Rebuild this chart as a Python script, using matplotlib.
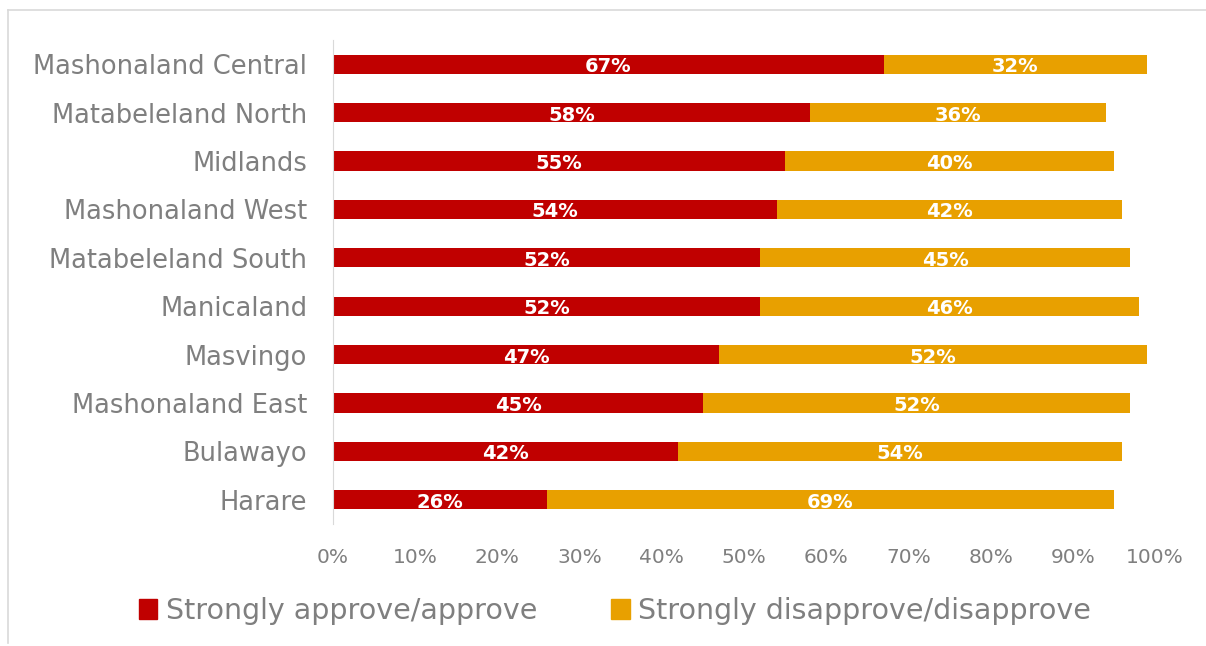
import matplotlib.pyplot as plt
from matplotlib.patches import Patch
from matplotlib.lines import Line2D

regions = ["Mashonaland Central", "Matabeleland North", "Midlands", "Mashonaland West",
           "Matabeleland South", "Manicaland", "Masvingo", "Mashonaland East",
           "Bulawayo", "Harare"]
approve = [67, 58, 55, 54, 52, 52, 47, 45, 42, 26]
disapprove = [32, 36, 40, 42, 45, 46, 52, 52, 54, 69]
series_names = ["Strongly approve/approve", "Strongly disapprove/disapprove"]

red = "#C00000"
orange = "#E8A000"
grey = "#7F7F7F"
plt.rcParams['font.family'] = ['DejaVu Sans']

fig = plt.figure(figsize=(12.06, 6.46), dpi=100)
ax = fig.add_axes([333 / 1206, 1 - 524 / 646, (1155 - 333) / 1206, (524 - 40) / 646])

y = list(range(len(regions)))
a = [v / 100 for v in approve]
d = [v / 100 for v in disapprove]
ax.barh(y, a, height=0.4, color=red)
ax.barh(y, d, left=a, height=0.4, color=orange)

for i in y:
    ax.text(a[i] / 2, i + 0.05, f"{approve[i]}%", color="white", fontsize=14,
            fontweight="bold", ha="center", va="center")
    ax.text(a[i] + d[i] / 2, i + 0.05, f"{disapprove[i]}%", color="white", fontsize=14,
            fontweight="bold", ha="center", va="center")

ax.set_xlim(0, 1)
ax.set_ylim(len(regions) - 0.5, -0.5)
ax.set_yticks(y)
ax.set_yticklabels(regions, fontsize=18.5, color=grey)
ax.set_xticks([i / 10 for i in range(11)])
ax.set_xticklabels([f"{i * 10}%" for i in range(11)], fontsize=14.5, color=grey)
ax.tick_params(length=0, axis='y', pad=18.5)
ax.tick_params(length=0, axis='x', pad=17)
for s in ["top", "right", "bottom"]:
    ax.spines[s].set_visible(False)
ax.spines["left"].set_color("#D9D9D9")

handles = [Patch(color=red), Patch(color=orange)]
fig.legend(handles, series_names, loc="center", bbox_to_anchor=(0.51, 1 - 611 / 646),
           ncol=2, frameon=False, fontsize=20.5, labelcolor=grey,
           handlelength=0.65, handleheight=0.65, handletextpad=0.3, columnspacing=2.6)

# thin frame of the slide
fig.add_artist(Line2D([8 / 1206, 8 / 1206], [0.005, 1 - 10 / 646], color="#D9D9D9", lw=1.2))
fig.add_artist(Line2D([8 / 1206, 1], [1 - 10 / 646, 1 - 10 / 646], color="#D9D9D9", lw=1.2))

fig.savefig("out.png", dpi=100)
